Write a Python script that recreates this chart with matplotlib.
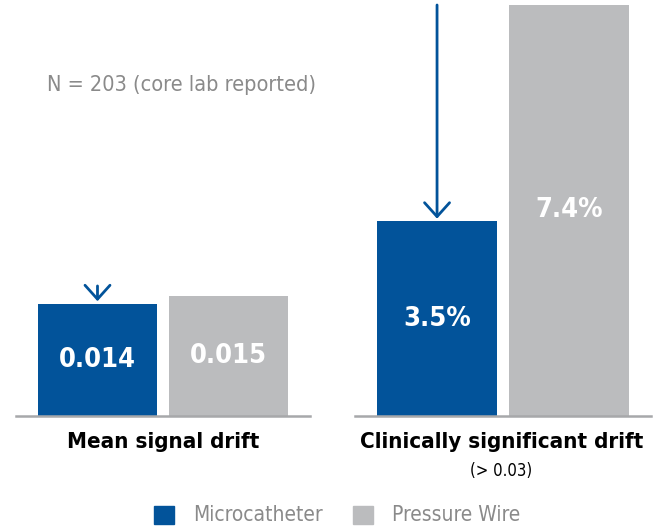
import matplotlib
matplotlib.use("Agg")
import matplotlib.pyplot as plt

plt.rcParams["font.family"] = ["DejaVu Sans"]
plt.rcParams["font.stretch"] = "condensed"

BLUE = "#02539A"
GRAY = "#BBBCBE"
TEXT_GRAY = "#8A8A8A"

series = ["Microcatheter", "Pressure Wire"]
colors = [BLUE, GRAY]

mean_drift = [0.014, 0.015]
mean_labels = ["0.014", "0.015"]
sig_drift = [3.5, 7.4]
sig_labels = ["3.5%", "7.4%"]

W, H = 656, 529
fig = plt.figure(figsize=(W / 100, H / 100), dpi=100)

base_y = 415.7  # baseline, px from top


def px_axes(x0, x1):
    return fig.add_axes([x0 / W, (H - base_y) / H, (x1 - x0) / W, base_y / H])


def draw_group(ax, values, labels, ymax):
    xs = range(len(values))
    ax.bar(xs, values, width=0.908, color=colors, zorder=2)
    ax.set_xlim(-0.622, 1.622)
    ax.set_ylim(0, ymax)
    for x, v, lab in zip(xs, values, labels):
        ax.text(x, v / 2, lab, ha="center", va="center", color="white",
                fontsize=19.5, fontweight="bold")
    for s in ["top", "left", "right"]:
        ax.spines[s].set_visible(False)
    ax.spines["bottom"].set_color("#A7A8AA")
    ax.spines["bottom"].set_linewidth(1.8)
    ax.set_xticks([])
    ax.set_yticks([])
    ax.patch.set_alpha(0)


ax1 = px_axes(16, 310)
draw_group(ax1, mean_drift, mean_labels, 0.0521)
ax2 = px_axes(355, 651)
draw_group(ax2, sig_drift, sig_labels, 7.49)

arrow = dict(arrowstyle="->,head_length=0.5,head_width=0.45", color=BLUE,
             lw=2, mutation_scale=20, shrinkA=0, shrinkB=2)
# short arrow just above the blue bar
ax1.annotate("", xy=(0, mean_drift[0]), xytext=(0, 13),
             textcoords="offset points", arrowprops=arrow,
             annotation_clip=False)
# long arrow from the top of the plot down to the blue bar
ax2.annotate("", xy=(0, sig_drift[0]), xytext=(0, sig_drift[1]),
             textcoords="data", arrowprops=arrow, annotation_clip=False)

# category labels
fig.text(163 / W, 1 - 442 / H, "Mean signal drift", ha="center", va="center",
         fontsize=16, fontweight="bold", color="black")
fig.text(502 / W, 1 - 442 / H, "Clinically significant drift", ha="center",
         va="center", fontsize=16, fontweight="bold", color="black")
fig.text(501 / W, 1 - 471 / H, "(> 0.03)", ha="center", va="center",
         fontsize=12, color="black")

fig.text(47 / W, 1 - 85 / H, "N = 203 (core lab reported)", ha="left",
         va="center", fontsize=15.6, color=TEXT_GRAY)

# legend
leg_x = [154, 353]
for lx, name, c in zip(leg_x, series, colors):
    fig.patches.append(plt.Rectangle((lx / W, 1 - 524 / H), 20 / W, 18 / H,
                                     transform=fig.transFigure, color=c,
                                     figure=fig))
    fig.text((lx + 39) / W, 1 - 515 / H, name, ha="left", va="center",
             fontsize=15, color=TEXT_GRAY)

fig.savefig("out.png", dpi=100)
